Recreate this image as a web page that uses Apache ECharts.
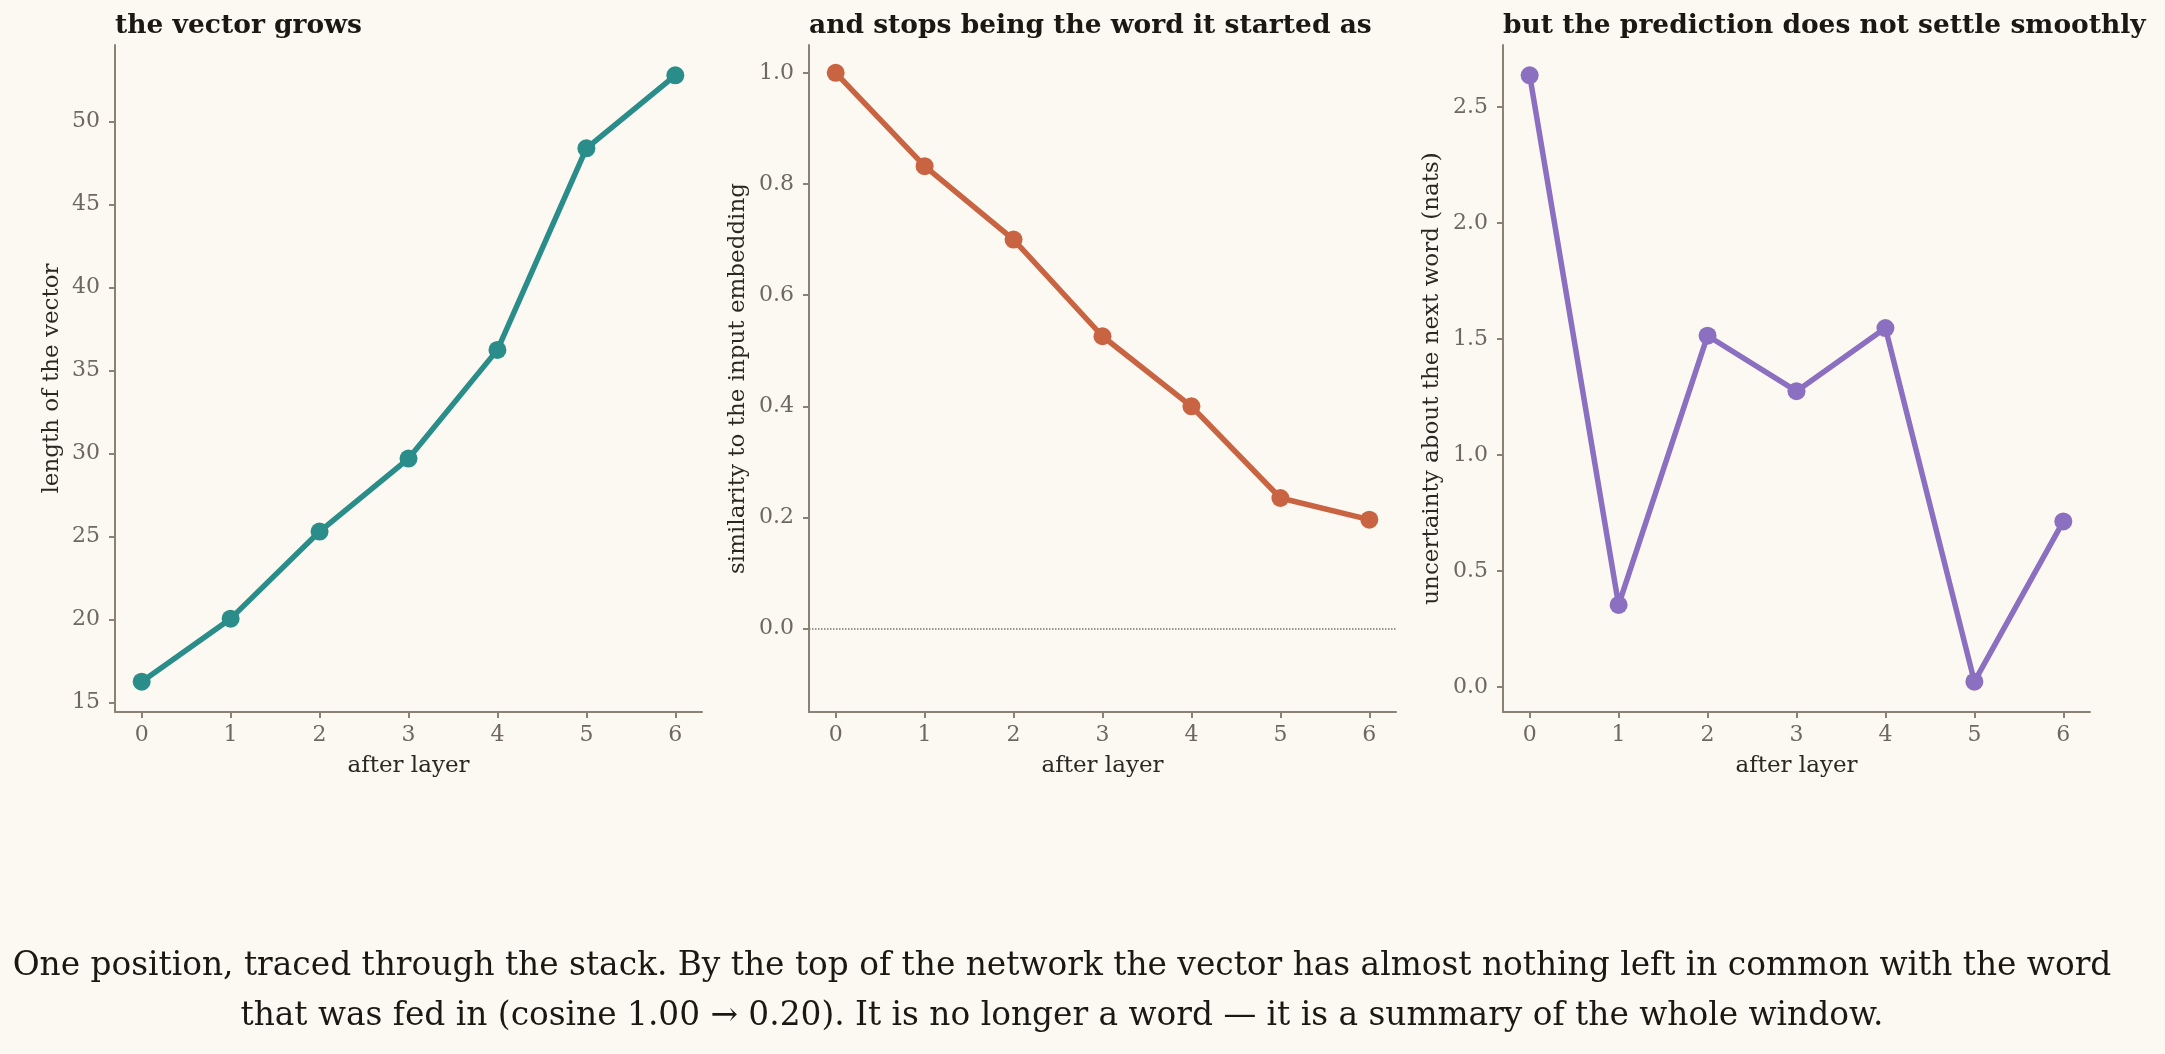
<!DOCTYPE html>
<html>
<head>
<meta charset="utf-8">
<script src="https://cdn.jsdelivr.net/npm/echarts@6/dist/echarts.min.js"></script>
<style>
  html, body { margin: 0; padding: 0; background: #fcf9f2; }
  #chart { width: 2165px; height: 1054px; }
</style>
</head>
<body>
<div id="chart"></div>
<script>
// data
const layers = [0, 1, 2, 3, 4, 5, 6];
const vectorLength = [16.25, 20.05, 25.3, 29.7, 36.25, 48.4, 52.8];
const cosineToInput = [1.0, 0.832, 0.70, 0.526, 0.40, 0.235, 0.196];
const entropyNats = [2.637, 0.353, 1.514, 1.275, 1.547, 0.022, 0.713];

const panelTitles = [
  'the vector grows',
  'and stops being the word it started as',
  'but the prediction does not settle smoothly'
];
const yNames = [
  'length of the vector',
  'similarity to the input embedding',
  'uncertainty about the next word (nats)'
];
const yTicks = [
  [15, 20, 25, 30, 35, 40, 45, 50],
  [0, 0.2, 0.4, 0.6, 0.8, 1.0],
  [0, 0.5, 1.0, 1.5, 2.0, 2.5]
];
const colors = ['#2a8d8a', '#c96442', '#8b6fc0'];
const captionLines = [
  'One position, traced through the stack. By the top of the network the vector has almost nothing left in common with the word',
  'that was fed in (cosine 1.00 \u2192 0.20). It is no longer a word \u2014 it is a summary of the whole window.'
];

const font = 'DejaVu Serif';
const spine = '#8a8274';

// matplotlib-like 5% margins
function pad(arr) {
  const lo = Math.min(...arr), hi = Math.max(...arr);
  const m = (hi - lo) * 0.05;
  return [lo - m, hi + m];
}
const yRanges = [pad(vectorLength), [-0.15, 1.05], pad(entropyNats)];
const seriesData = [vectorLength, cosineToInput, entropyNats];
const lefts = [115, 809, 1503];
const W = 587;

const chart = echarts.init(document.getElementById('chart'));

const grid = lefts.map(l => ({ left: l, width: W, top: 45, height: 667 }));

const xAxis = lefts.map((l, i) => ({
  type: 'value', gridIndex: i, min: -0.3, max: 6.3,
  name: 'after layer', nameLocation: 'middle', nameGap: 43,
  nameTextStyle: { fontFamily: font, fontSize: 23, color: '#2b2722' },
  axisLine: { onZero: false, lineStyle: { color: spine, width: 2 } },
  axisTick: { length: 6, lineStyle: { color: spine, width: 2 }, customValues: layers },
  axisLabel: { customValues: layers, fontFamily: font, fontSize: 22, color: '#6e6960', margin: 12 },
  splitLine: { show: false }
}));

const yAxis = lefts.map((l, i) => ({
  type: 'value', gridIndex: i, min: yRanges[i][0], max: yRanges[i][1],
  name: yNames[i], nameLocation: 'middle', nameGap: i === 0 ? 51 : 59,
  nameTextStyle: { fontFamily: font, fontSize: 23, color: '#2b2722' },
  axisLine: { show: true, onZero: false, lineStyle: { color: spine, width: 2 } },
  axisTick: { show: true, length: 6, lineStyle: { color: spine, width: 2 }, customValues: yTicks[i] },
  axisLabel: {
    customValues: yTicks[i], fontFamily: font, fontSize: 22, color: '#6e6960', margin: 15,
    formatter: v => i === 0 ? String(Math.round(v)) : v.toFixed(1)
  },
  splitLine: { show: false }
}));

const series = seriesData.map((vals, i) => {
  const s = {
    type: 'line', xAxisIndex: i, yAxisIndex: i,
    data: vals.map((v, k) => [layers[k], v]),
    symbol: 'circle', symbolSize: 18,
    lineStyle: { color: colors[i], width: 5.5 },
    itemStyle: { color: colors[i] },
    animation: false, z: 3
  };
  if (i === 1) {
    s.markLine = {
      silent: true, symbol: 'none', label: { show: false },
      lineStyle: { color: '#7a746a', type: 'dotted', width: 1.5 },
      data: [{ yAxis: 0 }]
    };
  }
  return s;
});

chart.setOption({
  backgroundColor: '#fcf9f2',
  animation: false,
  title: panelTitles.map((t, i) => ({
    text: t, left: lefts[i] - 5, top: 8,
    textStyle: { fontFamily: font, fontSize: 26.5, fontWeight: 'bold', color: '#1b1813' }
  })),
  grid, xAxis, yAxis, series,
  graphic: captionLines.map((t, k) => ({
    type: 'text', x: 1062, y: 966 + k * 50,
    style: {
      text: t, fontFamily: font, fontSize: 32.8,
      fill: '#1b1813', align: 'center', verticalAlign: 'middle'
    }
  }))
});
</script>
</body>
</html>
